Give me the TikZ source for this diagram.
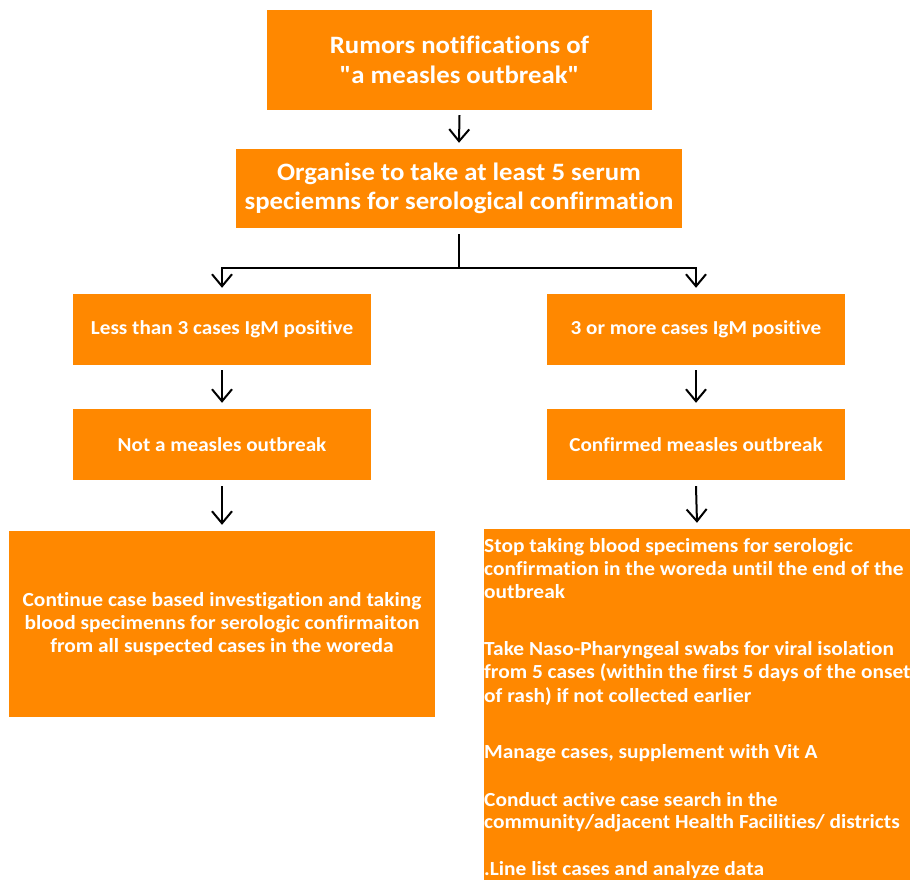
\documentclass[tikz,border=0pt]{standalone}
\usepackage{fontspec}
\setmainfont{Carlito}[Ligatures={TeXOff,NoCommon},FakeStretch=1.07]
\usetikzlibrary{arrows.meta}
\definecolor{boxorange}{HTML}{FF8800}
\begin{document}
\begin{tikzpicture}[x=1pt,y=-1pt,
  box/.style={fill=boxorange, draw=none, text=white, inner sep=0pt, align=center, font=\bfseries},
  linetext/.style={text=white, inner sep=0pt, anchor=base west, font=\bfseries\fontsize{20}{23}\selectfont},
  arr/.style={line width=2pt, -{Straight Barb[length=12pt,width=20pt,line width=2pt]}},
  conn/.style={line width=2pt}]
\useasboundingbox (0,0) rectangle (911,880);
\fill[white] (0,0) rectangle (911,880);

\node[box, minimum width=385pt, minimum height=100pt, font=\bfseries\fontsize{25}{30}\selectfont] (b1) at (459.5,60) {Rumors notifications of\\"a measles outbreak"};
\node[box, minimum width=446pt, minimum height=79pt, font=\bfseries\fontsize{25}{29.5}\selectfont] (b2) at (459,188.5) {Organise to take at least 5 serum\\speciemns for serological confirmation};

\node[box, minimum width=298pt, minimum height=71pt, font=\bfseries\fontsize{19.8}{22}\selectfont] (l1) at (222,329.5) {Less than 3 cases IgM positive};
\node[box, minimum width=298pt, minimum height=71pt, font=\bfseries\fontsize{19.8}{22}\selectfont] (r1) at (696,329.5) {3 or more cases IgM positive};
\node[box, minimum width=298pt, minimum height=71pt, font=\bfseries\fontsize{19.8}{22}\selectfont] (l2) at (222,444.5) {Not a measles outbreak};
\node[box, minimum width=298pt, minimum height=71pt, font=\bfseries\fontsize{19.8}{22}\selectfont] (r2) at (696,444.5) {Confirmed measles outbreak};

\node[box, minimum width=426pt, minimum height=186pt, font=\bfseries\fontsize{20}{23.3}\selectfont] (l3) at (222,624) {Continue case based investigation and taking\\blood specimenns for serologic confirmaiton\\from all suspected cases in the woreda};
\node[box, minimum width=426pt, minimum height=351pt] (r3) at (697,704.5) {};

\node[linetext] (t1) at (484,552) {Stop taking blood specimens for serologic};
\node[linetext] (t2) at (484,575) {confirmation in the woreda until the end of the};
\node[linetext] (t3) at (484,598) {outbreak};
\node[linetext] (t4) at (484,655) {Take Naso-Pharyngeal swabs for viral isolation};
\node[linetext] (t5) at (484,678) {from 5 cases (within the first 5 days of the onset};
\node[linetext] (t6) at (484,702) {of rash) if not collected earlier};
\node[linetext] (t7) at (484,758) {Manage cases, supplement with Vit A};
\node[linetext] (t8) at (484,806) {Conduct active case search in the};
\node[linetext] (t9) at (484,828) {community/adjacent Health Facilities/ districts};
\node[linetext] (t10) at (484,875) {.Line list cases and analyze data};

\coordinate (split) at (459,268);

\draw[arr] ([yshift=-5pt]b1.south) -- ([yshift=6pt]b2.north);
\draw[conn] ([yshift=-6pt]b2.south) -- (split);
\draw[arr] (split) -| ([yshift=6pt]l1.north);
\draw[arr] (split) -| ([yshift=6pt]r1.north);
\draw[arr] ([yshift=-5pt]l1.south) -- ([yshift=6pt]l2.north);
\draw[arr] ([yshift=-5pt]r1.south) -- ([yshift=6pt]r2.north);
\draw[arr] ([yshift=-6pt]l2.south) -- ([yshift=6pt]l3.north);
\draw[arr] ([yshift=-6pt]r2.south) -- ([yshift=6pt]r3.north);
\end{tikzpicture}
\end{document}
